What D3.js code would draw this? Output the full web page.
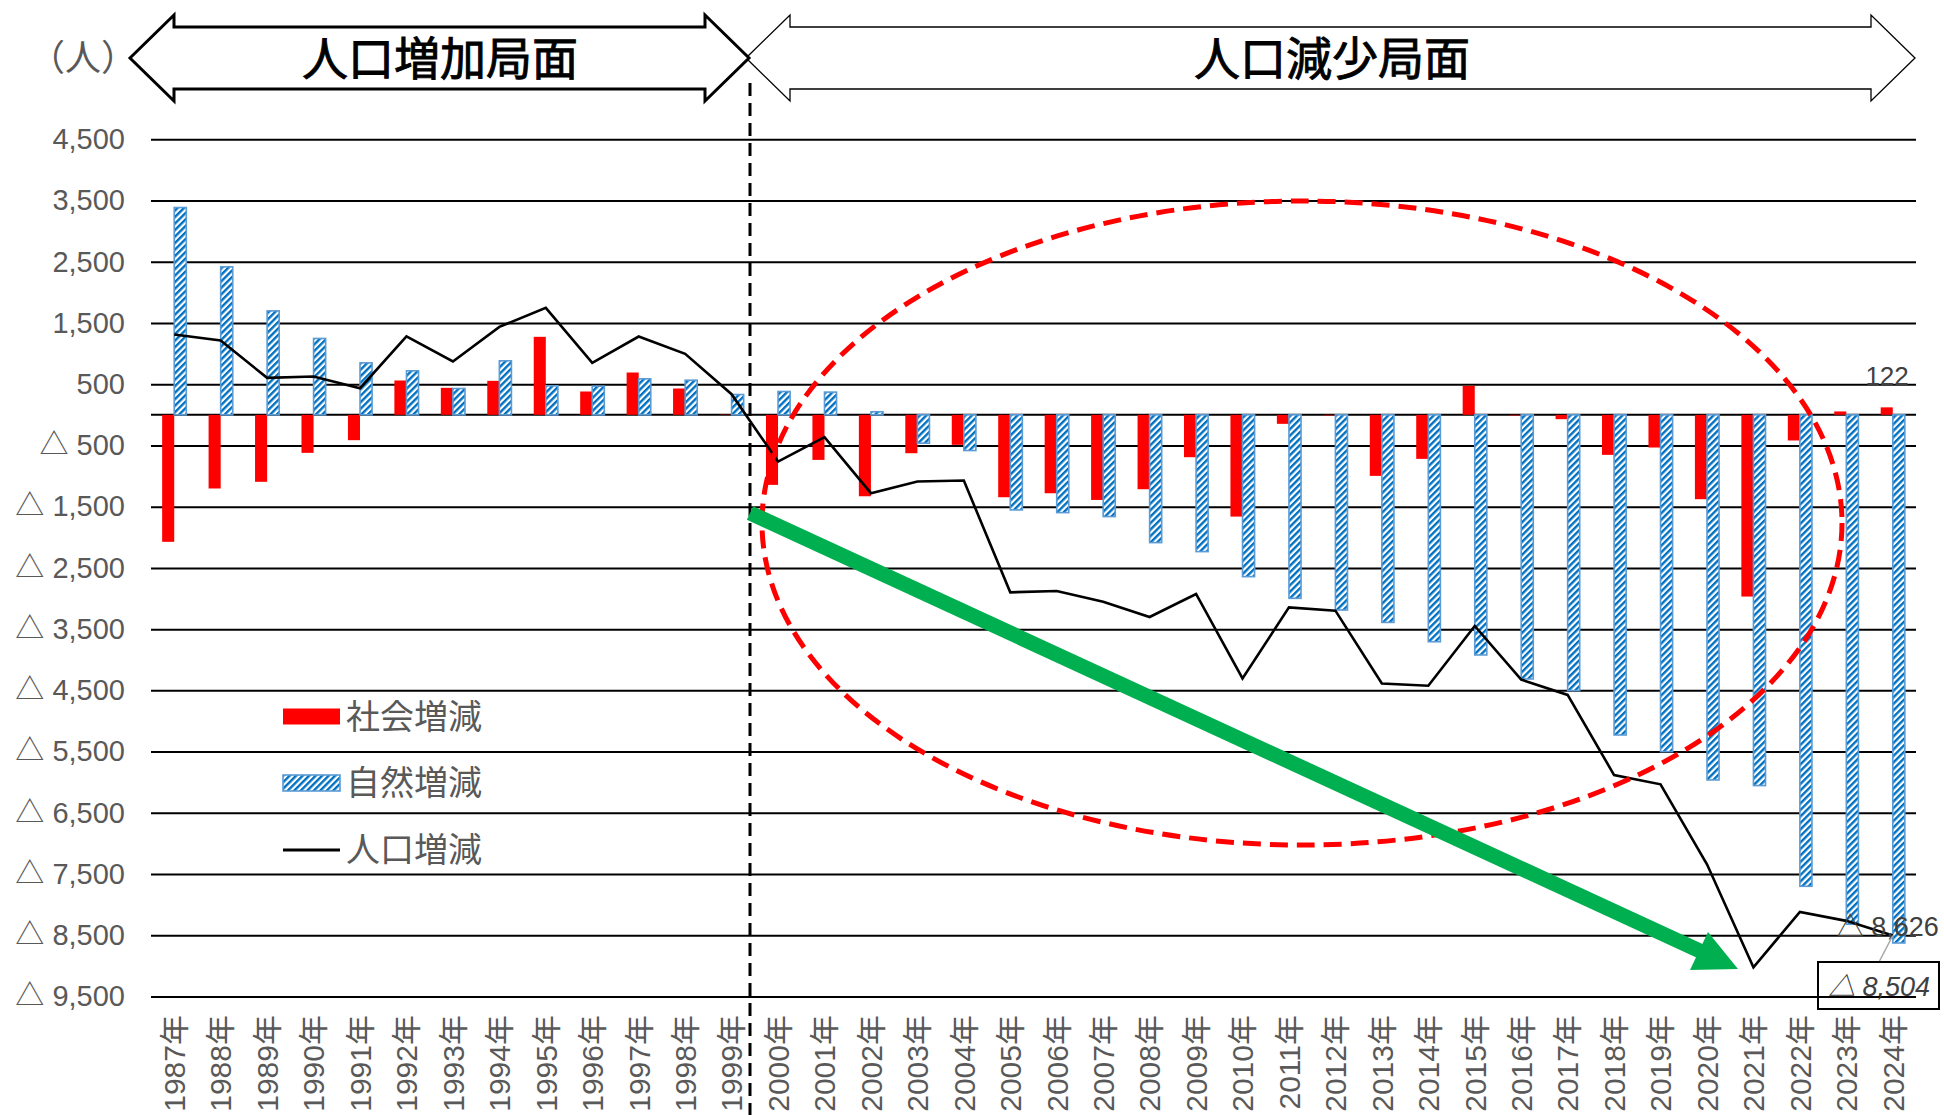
<!DOCTYPE html>
<html>
<head>
<meta charset="utf-8">
<script src="https://cdn.jsdelivr.net/npm/d3@7"></script>
<style>
  html, body { margin: 0; padding: 0; background: #fff; }
  svg { display: block; }
</style>
</head>
<body>
<svg id="chart" width="1944" height="1115"></svg>
<script>
// categories
const years = ['1987年', '1988年', '1989年', '1990年', '1991年', '1992年', '1993年', '1994年', '1995年', '1996年',
  '1997年', '1998年', '1999年', '2000年', '2001年', '2002年', '2003年', '2004年', '2005年', '2006年',
  '2007年', '2008年', '2009年', '2010年', '2011年', '2012年', '2013年', '2014年', '2015年', '2016年',
  '2017年', '2018年', '2019年', '2020年', '2021年', '2022年', '2023年', '2024年']
// 社会増減
const social = [-2074, -1203, -1094, -621, -414, 561, 441, 555, 1274, 381,
  691, 430, 5, -1144, -736, -1330, -627, -490, -1346, -1281,
  -1390, -1215, -692, -1662, -147, -10, -997, -719, 474, -10,
  -71, -654, -534, -1378, -2968, -419, 55, 122]
// 自然増減
const natural = [3386, 2417, 1698, 1247, 849, 719, 430, 882, 474, 468,
  588, 566, 332, 381, 371, 50, -463, -583, -1553, -1597,
  -1662, -2087, -2234, -2643, -2997, -3188, -3390, -3706, -3922, -4314,
  -4504, -5229, -5501, -5963, -6055, -7700, -8320, -8626]
// 人口増減
const total = [1312, 1214, 604, 626, 435, 1280, 871, 1437, 1748, 849,
  1279, 996, 337, -763, -365, -1280, -1090, -1073, -2899, -2878,
  -3052, -3302, -2926, -4305, -3144, -3198, -4387, -4425, -3448, -4324,
  -4575, -5883, -6035, -7341, -9023, -8119, -8265, -8504]
const yTicks = [4500, 3500, 2500, 1500, 500, -500, -1500, -2500, -3500, -4500, -5500, -6500, -7500, -8500, -9500]
const legendLabels = ['社会増減', '自然増減', '人口増減']
const phaseLabels = ['人口増加局面', '人口減少局面']
const unitLabel = '（人）'

const svg = d3.select('#chart')
const plot = { left: 151, right: 1916, top: 139.3, bottom: 996.5 }
const latin = '"Liberation Sans", "Noto Sans CJK JP", sans-serif'
const cjk = '"Noto Sans CJK JP", sans-serif'

const rows = years.map((yr, i) => ({ yr, social: social[i], natural: natural[i], total: total[i] }))

const x0 = d3.scaleBand().domain(years).range([plot.left, plot.right]).paddingInner(0.48).paddingOuter(0.24)
const x1 = d3.scaleBand().domain(['social', 'natural']).range([0, x0.bandwidth()])
const y = d3.scaleLinear().domain([-9500, 4500]).range([plot.bottom, plot.top])
const cx = d => x0(d) + x0.bandwidth() / 2
const fmt = d3.format(',')
const tri = v => v < 0 ? '△ ' + fmt(-v) : fmt(v)

// hatch for 自然増減
const defs = svg.append('defs')
const hatch = defs.append('pattern').attr('id', 'hatch')
  .attr('patternUnits', 'userSpaceOnUse')
  .attr('width', 4.6).attr('height', 10)
  .attr('patternTransform', 'rotate(45)')
hatch.append('rect').attr('width', 4.6).attr('height', 10).attr('fill', '#fff')
hatch.append('rect').attr('width', 2.4).attr('height', 10).attr('fill', '#0070c0')

// y axis + gridlines
const gy = svg.append('g')
  .attr('transform', `translate(${plot.left},0)`)
  .call(d3.axisLeft(y).tickValues(yTicks).tickSize(-(plot.right - plot.left)).tickPadding(26).tickFormat(tri))
gy.select('.domain').remove()
gy.selectAll('line').attr('stroke', '#000').attr('stroke-width', 2)
gy.selectAll('text').attr('fill', '#595959').style('font-family', latin).style('font-size', '29px')

// zero line
svg.append('line')
  .attr('x1', plot.left).attr('x2', plot.right)
  .attr('y1', y(0)).attr('y2', y(0))
  .attr('stroke', '#000').attr('stroke-width', 2)

// x axis labels (rotated)
const gx = svg.append('g')
  .attr('transform', 'translate(0,1015)')
  .call(d3.axisBottom(x0).tickSize(0))
gx.select('.domain').remove()
gx.selectAll('text')
  .attr('x', 0).attr('y', 0).attr('dy', '0.36em')
  .attr('transform', 'rotate(-90)')
  .attr('text-anchor', 'end')
  .attr('fill', '#595959')
  .style('font-family', latin).style('font-size', '30px')

// bars
const bars = svg.append('g')
bars.selectAll('rect.social').data(rows).join('rect')
  .attr('class', 'social')
  .attr('x', d => x0(d.yr) + x1('social'))
  .attr('y', d => y(Math.max(0, d.social)))
  .attr('width', x1.bandwidth())
  .attr('height', d => Math.abs(y(d.social) - y(0)))
  .attr('fill', '#ff0000')
bars.selectAll('rect.natural').data(rows).join('rect')
  .attr('class', 'natural')
  .attr('x', d => x0(d.yr) + x1('natural'))
  .attr('y', d => y(Math.max(0, d.natural)))
  .attr('width', x1.bandwidth())
  .attr('height', d => Math.abs(y(d.natural) - y(0)))
  .attr('fill', 'url(#hatch)')
  .attr('stroke', '#5b9bd5').attr('stroke-width', 1.6)

// 人口増減 line
svg.append('path').datum(rows)
  .attr('fill', 'none').attr('stroke', '#000').attr('stroke-width', 2.6)
  .attr('stroke-linejoin', 'miter')
  .attr('d', d3.line().x(d => cx(d.yr)).y(d => y(d.total)))

// data labels
const last = rows[rows.length - 1]
svg.append('text')
  .attr('x', cx(last.yr) + 16).attr('y', y(last.social) - 22)
  .attr('text-anchor', 'end').attr('fill', '#404040')
  .style('font-family', latin).style('font-size', '26px')
  .text(fmt(last.social))
svg.append('text')
  .attr('x', cx(last.yr) - 56).attr('y', y(last.natural) - 7)
  .attr('fill', '#404040')
  .style('font-family', latin).style('font-size', '27px')
  .text(tri(last.natural))
svg.append('line')
  .attr('x1', cx(last.yr)).attr('y1', y(last.total))
  .attr('x2', cx(last.yr) - 14).attr('y2', y(last.total) + 27)
  .attr('stroke', '#a6a6a6').attr('stroke-width', 1.5)
svg.append('rect')
  .attr('x', 1818).attr('y', 962).attr('width', 121).attr('height', 47)
  .attr('fill', 'none').attr('stroke', '#000').attr('stroke-width', 2)
svg.append('text')
  .attr('x', 1828).attr('y', 996)
  .attr('fill', '#404040').attr('font-style', 'italic')
  .style('font-family', latin).style('font-size', '27px')
  .text(tri(last.total))

// phase divider
svg.append('line')
  .attr('x1', 750).attr('x2', 750).attr('y1', 83).attr('y2', 1115)
  .attr('stroke', '#000').attr('stroke-width', 3).attr('stroke-dasharray', '13 7')

// red dashed ellipse
svg.append('ellipse')
  .attr('cx', 1302).attr('cy', 523).attr('rx', 540).attr('ry', 322)
  .attr('fill', 'none').attr('stroke', '#ff0000').attr('stroke-width', 5).attr('stroke-dasharray', '18 9')

// green trend arrow
svg.append('line')
  .attr('x1', 750).attr('y1', 513).attr('x2', 1700).attr('y2', 951)
  .attr('stroke', '#00b050').attr('stroke-width', 15)
svg.append('polygon')
  .attr('points', '1738,969 1708,932 1690,970')
  .attr('fill', '#00b050')

// phase banners (double arrows)
const dblArrow = (x0, x1, head) => {
  const yc = 58, top = 15, bot = 101, bt = 27, bb = 89
  return [[x0, yc], [x0 + head, top], [x0 + head, bt], [x1 - head, bt], [x1 - head, top],
    [x1, yc], [x1 - head, bot], [x1 - head, bb], [x0 + head, bb], [x0 + head, bot]]
    .map(p => p.join(',')).join(' ')
}
svg.append('polygon')
  .attr('points', dblArrow(746, 1915, 44))
  .attr('fill', '#fff').attr('stroke', '#000').attr('stroke-width', 1.3)
svg.append('polygon')
  .attr('points', dblArrow(130, 749, 44))
  .attr('fill', '#fff').attr('stroke', '#000').attr('stroke-width', 3).attr('stroke-linejoin', 'miter')
svg.selectAll('text.phase').data(phaseLabels).join('text')
  .attr('class', 'phase')
  .attr('x', (d, i) => [440, 1332][i]).attr('y', 58).attr('dy', '0.36em')
  .attr('text-anchor', 'middle').attr('fill', '#000')
  .attr('stroke', '#000').attr('stroke-width', 0.9)
  .style('font-family', cjk).style('font-size', '46px')
  .text(d => d)

// unit
svg.append('text')
  .attr('x', 29).attr('y', 58).attr('dy', '0.36em')
  .attr('fill', '#595959')
  .style('font-family', cjk).style('font-size', '36px')
  .text(unitLabel)

// legend
const lg = svg.append('g').attr('transform', 'translate(283,0)')
const rowY = [716.5, 783, 850]
lg.append('rect').attr('x', 0).attr('y', rowY[0] - 8).attr('width', 57).attr('height', 16).attr('fill', '#ff0000')
lg.append('rect').attr('x', 0).attr('y', rowY[1] - 8).attr('width', 57).attr('height', 16)
  .attr('fill', 'url(#hatch)').attr('stroke', '#5b9bd5').attr('stroke-width', 1.6)
lg.append('line').attr('x1', 0).attr('x2', 57).attr('y1', rowY[2]).attr('y2', rowY[2])
  .attr('stroke', '#000').attr('stroke-width', 3)
lg.selectAll('text.lbl').data(legendLabels).join('text')
  .attr('class', 'lbl')
  .attr('x', 63).attr('y', (d, i) => rowY[i]).attr('dy', '0.36em')
  .attr('fill', '#595959')
  .style('font-family', cjk).style('font-size', '34px')
  .text(d => d)
</script>
</body>
</html>
